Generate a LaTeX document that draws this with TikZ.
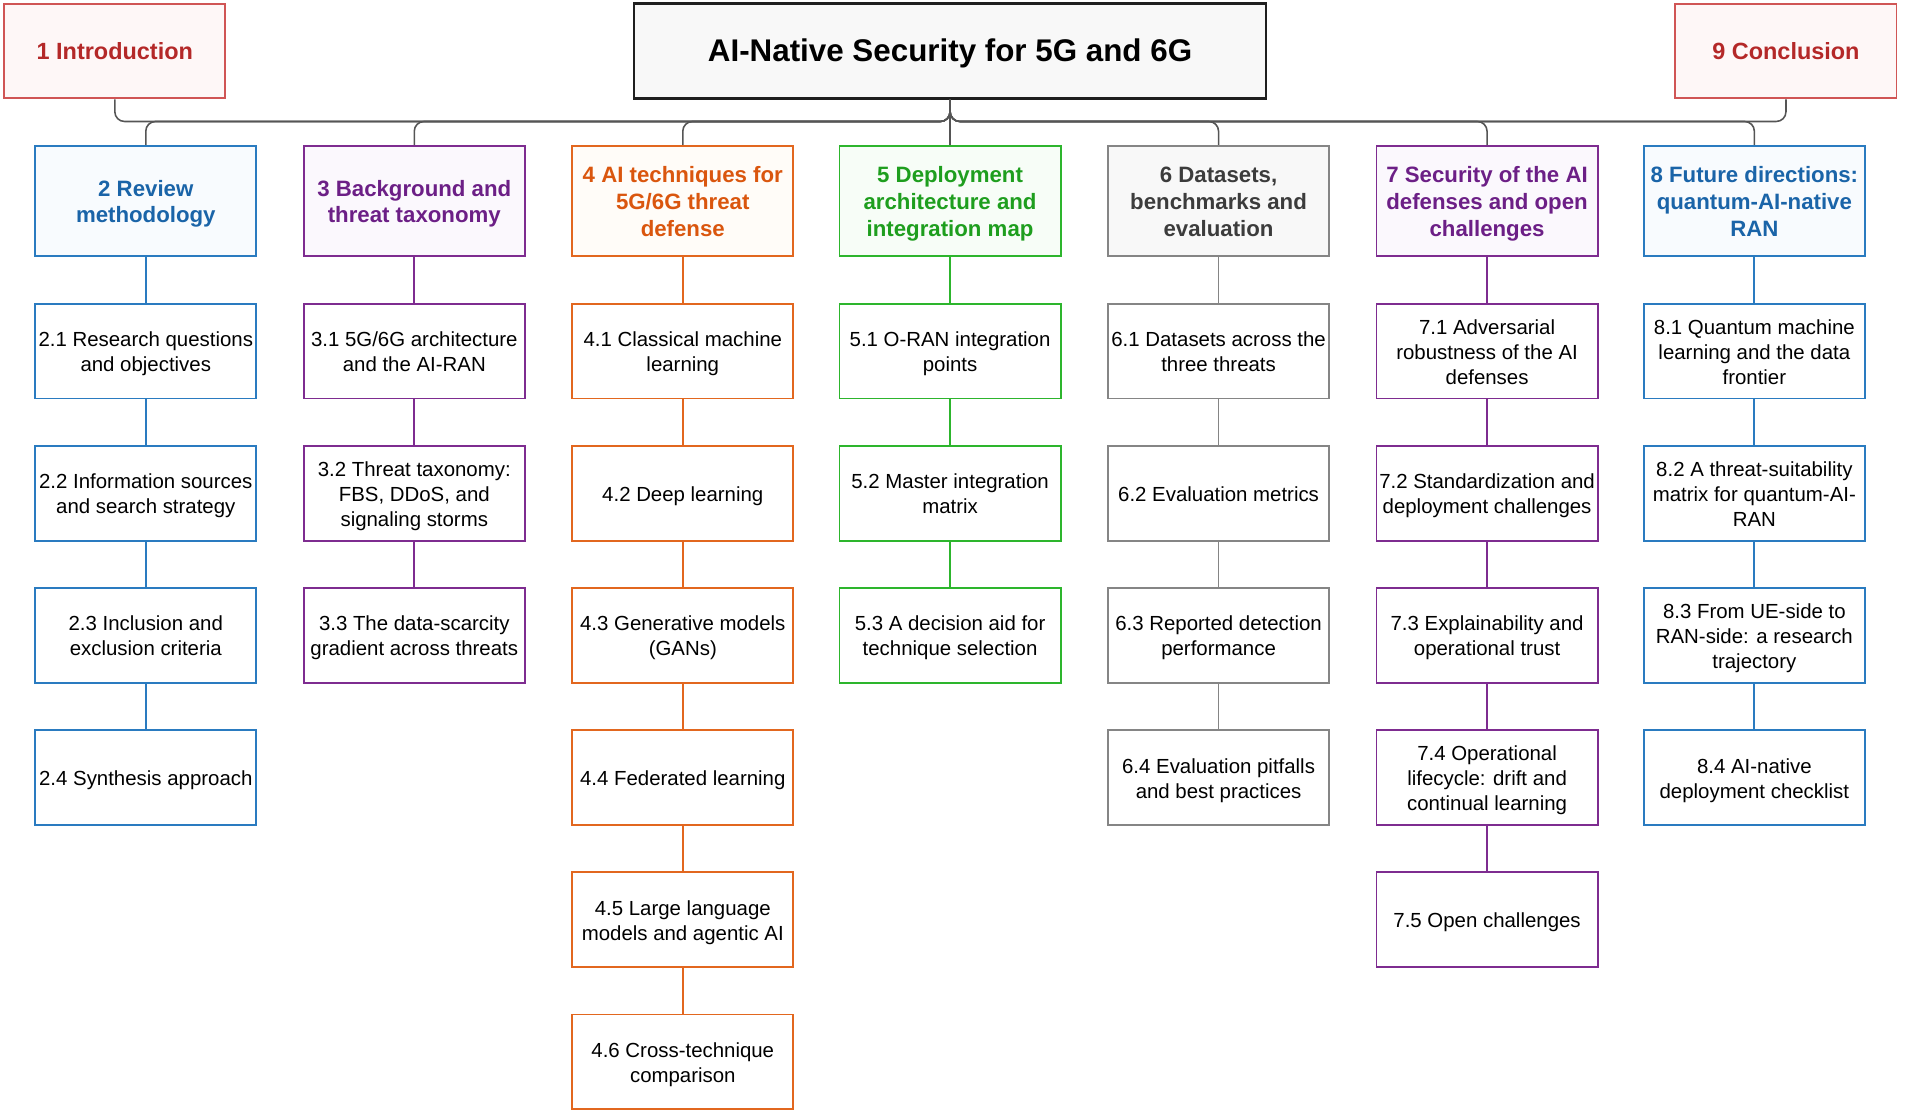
\documentclass[tikz,border=0pt]{standalone}
\usepackage{fontspec}
\setmainfont{Liberation Sans}
\definecolor{redB}{HTML}{D05555}
\definecolor{redT}{HTML}{B42828}
\definecolor{redF}{HTML}{FEF7F7}
\definecolor{bluB}{HTML}{2A7BC0}
\definecolor{bluT}{HTML}{1A64A8}
\definecolor{bluF}{HTML}{F8FBFE}
\definecolor{purB}{HTML}{7E2C90}
\definecolor{purT}{HTML}{6C1F86}
\definecolor{purF}{HTML}{FBF8FD}
\definecolor{oraB}{HTML}{E2671F}
\definecolor{oraT}{HTML}{DA560E}
\definecolor{oraF}{HTML}{FFFCF8}
\definecolor{greB}{HTML}{2DB52D}
\definecolor{greT}{HTML}{1E9E1E}
\definecolor{greF}{HTML}{F7FDF7}
\definecolor{gryB}{HTML}{858585}
\definecolor{gryT}{HTML}{3C3C3C}
\definecolor{gryF}{HTML}{F8F8F8}
\definecolor{titF}{HTML}{F8F8F8}
\definecolor{busC}{HTML}{555555}
\newcommand\boxtxt[1]{\raisebox{-2.5pt}[\height][\depth]{\begin{tabular}{@{}c@{}}#1\end{tabular}}}
\tikzset{
  box/.style={draw, line width=1.5pt, inner sep=0pt,
    minimum width=182pt, minimum height=78pt},
  hdr/.style={box, minimum height=91pt, font=\fontsize{18.3}{22}\selectfont\bfseries},
  kid/.style={box, fill=white, text=black, font=\fontsize{16.8}{20.6}\selectfont},
  endbox/.style={box, draw=redB, fill=redF, text=redT, font=\fontsize{19.3}{23}\selectfont\bfseries},
  bus/.style={draw=busC, line width=1.3pt, rounded corners=8pt},
  link/.style={line width=1.5pt},
}
\begin{document}
\begin{tikzpicture}[x=1pt,y=-1pt]
\useasboundingbox (0,0) rectangle (1568,918);
% top row
\node[endbox] (intro) at (94.5,42) {\boxtxt{1 Introduction}};
\node[box, draw=black!88, line width=2pt, fill=titF, minimum width=520pt,
  font=\fontsize{25.8}{30}\selectfont\bfseries] (title) at (782,42) {\boxtxt{AI-Native Security for 5G and 6G}};
\node[endbox] (concl) at (1470,42) {\boxtxt{9 Conclusion}};
% headers
\node[hdr, draw=bluB, fill=bluF, text=bluT] (h2) at (120,165.5) {\boxtxt{2 Review\\methodology}};
\node[hdr, draw=purB, fill=purF, text=purT] (h3) at (341,165.5) {\boxtxt{3 Background and\\threat taxonomy}};
\node[hdr, draw=oraB, fill=oraF, text=oraT] (h4) at (562,165.5) {\boxtxt{4 AI techniques for\\5G/6G threat\\defense}};
\node[hdr, draw=greB, fill=greF, text=greT] (h5) at (782,165.5) {\boxtxt{5 Deployment\\architecture and\\integration map}};
\node[hdr, draw=gryB, fill=gryF, text=gryT] (h6) at (1003,165.5) {\boxtxt{6 Datasets,\\benchmarks and\\evaluation}};
\node[hdr, draw=purB, fill=purF, text=purT] (h7) at (1224,165.5) {\boxtxt{7 Security of the AI\\defenses and open\\challenges}};
\node[hdr, draw=bluB, fill=bluF, text=bluT] (h8) at (1444,165.5) {\boxtxt{8 Future directions:\\quantum-AI-native\\RAN}};
% bus connectors
\draw[bus] (intro.south) -- (94.5,100) -- (782,100) -- (title.south);
\draw[bus] (concl.south) -- (1470,100) -- (782,100) -- (title.south);
\foreach \h/\x in {h2/120,h3/341,h4/562,h5/782,h6/1003,h7/1224,h8/1444}
  \draw[bus] (title.south) -- (782,100) -- (\x,100) -- (\h.north);
% column 2
\node[kid, draw=bluB] (c21) at (120,289) {\boxtxt{2.1 Research questions\\and objectives}};
\node[kid, draw=bluB] (c22) at (120,406) {\boxtxt{2.2 Information sources\\and search strategy}};
\node[kid, draw=bluB] (c23) at (120,523) {\boxtxt{2.3 Inclusion and\\exclusion criteria}};
\node[kid, draw=bluB] (c24) at (120,640) {\boxtxt{2.4 Synthesis approach}};
% column 3
\node[kid, draw=purB] (c31) at (341,289) {\boxtxt{3.1 5G/6G architecture\\and the AI-RAN}};
\node[kid, draw=purB] (c32) at (341,406) {\boxtxt{3.2 Threat taxonomy:\\FBS, DDoS, and\\signaling storms}};
\node[kid, draw=purB] (c33) at (341,523) {\boxtxt{3.3 The data-scarcity\\gradient across threats}};
% column 4
\node[kid, draw=oraB] (c41) at (562,289) {\boxtxt{4.1 Classical machine\\learning}};
\node[kid, draw=oraB] (c42) at (562,406) {\boxtxt{4.2 Deep learning}};
\node[kid, draw=oraB] (c43) at (562,523) {\boxtxt{4.3 Generative models\\(GANs)}};
\node[kid, draw=oraB] (c44) at (562,640) {\boxtxt{4.4 Federated learning}};
\node[kid, draw=oraB] (c45) at (562,757) {\boxtxt{4.5 Large language\\models and agentic AI}};
\node[kid, draw=oraB] (c46) at (562,874) {\boxtxt{4.6 Cross-technique\\comparison}};
% column 5
\node[kid, draw=greB] (c51) at (782,289) {\boxtxt{5.1 O-RAN integration\\points}};
\node[kid, draw=greB] (c52) at (782,406) {\boxtxt{5.2 Master integration\\matrix}};
\node[kid, draw=greB] (c53) at (782,523) {\boxtxt{5.3 A decision aid for\\technique selection}};
% column 6
\node[kid, draw=gryB] (c61) at (1003,289) {\boxtxt{6.1 Datasets across the\\three threats}};
\node[kid, draw=gryB] (c62) at (1003,406) {\boxtxt{6.2 Evaluation metrics}};
\node[kid, draw=gryB] (c63) at (1003,523) {\boxtxt{6.3 Reported detection\\performance}};
\node[kid, draw=gryB] (c64) at (1003,640) {\boxtxt{6.4 Evaluation pitfalls\\and best practices}};
% column 7
\node[kid, draw=purB] (c71) at (1224,289) {\boxtxt{7.1 Adversarial\\robustness of the AI\\defenses}};
\node[kid, draw=purB] (c72) at (1224,406) {\boxtxt{7.2 Standardization and\\deployment challenges}};
\node[kid, draw=purB] (c73) at (1224,523) {\boxtxt{7.3 Explainability and\\operational trust}};
\node[kid, draw=purB] (c74) at (1224,640) {\boxtxt{7.4 Operational\\lifecycle: drift and\\continual learning}};
\node[kid, draw=purB] (c75) at (1224,757) {\boxtxt{7.5 Open challenges}};
% column 8
\node[kid, draw=bluB] (c81) at (1444,289) {\boxtxt{8.1 Quantum machine\\learning and the data\\frontier}};
\node[kid, draw=bluB] (c82) at (1444,406) {\boxtxt{8.2 A threat-suitability\\matrix for quantum-AI-\\RAN}};
\node[kid, draw=bluB] (c83) at (1444,523) {\boxtxt{8.3 From UE-side to\\RAN-side: a research\\trajectory}};
\node[kid, draw=bluB] (c84) at (1444,640) {\boxtxt{8.4 AI-native\\deployment checklist}};
% vertical links
\draw[link, bluB] (h2) -- (c21) (c21) -- (c22) (c22) -- (c23) (c23) -- (c24);
\draw[link, purB] (h3) -- (c31) (c31) -- (c32) (c32) -- (c33);
\draw[link, oraB] (h4) -- (c41) (c41) -- (c42) (c42) -- (c43) (c43) -- (c44) (c44) -- (c45) (c45) -- (c46);
\draw[link, greB] (h5) -- (c51) (c51) -- (c52) (c52) -- (c53);
\draw[link, gryB] (h6) -- (c61) (c61) -- (c62) (c62) -- (c63) (c63) -- (c64);
\draw[link, purB] (h7) -- (c71) (c71) -- (c72) (c72) -- (c73) (c73) -- (c74) (c74) -- (c75);
\draw[link, bluB] (h8) -- (c81) (c81) -- (c82) (c82) -- (c83) (c83) -- (c84);
\end{tikzpicture}
\end{document}
